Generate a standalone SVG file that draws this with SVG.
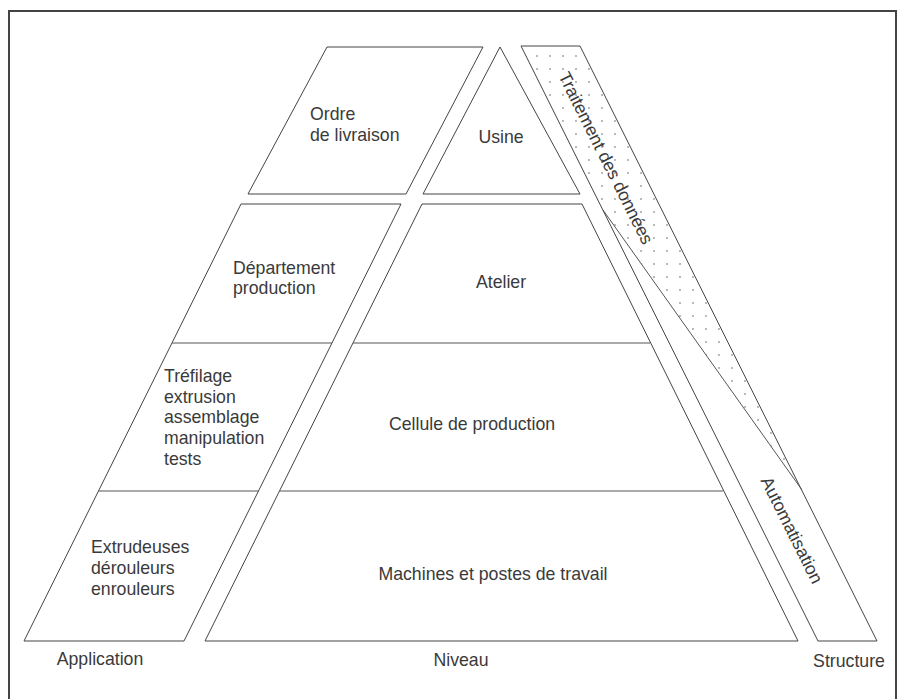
<svg xmlns="http://www.w3.org/2000/svg" width="897" height="699" viewBox="0 0 897 699">
<defs>
<pattern id="dots" width="13" height="13" patternUnits="userSpaceOnUse">
<circle cx="4" cy="4" r="0.9" fill="#999"/>
</pattern>
</defs>
<style>
.sh{fill:#fff;stroke:#444;stroke-width:1;stroke-linejoin:miter}
.ln{stroke:#555;stroke-width:1;fill:none}
.t{font-family:"Liberation Sans",Arial,sans-serif;font-size:17.7px;fill:#3a3a3a}
.c{text-anchor:middle}
.frame{stroke:#444;stroke-width:2;fill:none}
</style>
<rect width="897" height="699" fill="#fff"/>
<g id="frame"><path class="frame" d="M9,699 V11 H896 V699"/></g>

<g id="ordre">
<polygon class="sh" points="327,47 483,47 406,194 248,194"/>
<text class="t" x="310" y="120">Ordre</text>
<text class="t" x="310" y="141">de livraison</text>
</g>
<g id="application-lower">
<polygon class="sh" points="241,204 401,204 184,641 24,641"/>
<line class="ln" x1="172" y1="343" x2="332" y2="343"/>
<line class="ln" x1="98.5" y1="491" x2="258.5" y2="491"/>
</g>
<g id="departement">
<text class="t" x="233" y="274">Département</text>
<text class="t" x="233" y="294">production</text>
</g>
<g id="trefilage">
<text class="t" x="164" y="382">Tréfilage</text>
<text class="t" x="164" y="403">extrusion</text>
<text class="t" x="164" y="423">assemblage</text>
<text class="t" x="164" y="444">manipulation</text>
<text class="t" x="164" y="465">tests</text>
</g>
<g id="extrudeuses">
<text class="t" x="91" y="553">Extrudeuses</text>
<text class="t" x="91" y="574">dérouleurs</text>
<text class="t" x="91" y="595">enrouleurs</text>
</g>

<g id="usine">
<polygon class="sh" points="500,47 580,194 423,194"/>
<text class="t c" x="501" y="143">Usine</text>
</g>
<g id="niveau-lower">
<polygon class="sh" points="422,204 582,204 798,641 205,641"/>
<line class="ln" x1="353" y1="343" x2="650" y2="343"/>
<line class="ln" x1="279.5" y1="491" x2="723" y2="491"/>
</g>
<g id="atelier"><text class="t c" x="501" y="288">Atelier</text></g>
<g id="cellule"><text class="t c" x="472" y="430">Cellule de production</text></g>
<g id="machines"><text class="t c" x="493" y="580">Machines et postes de travail</text></g>

<g id="structure-strip">
<polygon class="sh" points="521,46 580,46 877,641 818,641"/>
<polygon points="521,46 580,46 802,490 603,210" fill="url(#dots)" stroke="none"/>
</g>
<g id="connectors">
<line class="ln" x1="603" y1="210" x2="802" y2="490"/>
</g>
<g id="traitement">
<text class="t c" x="606" y="158" dy="0.35em" transform="rotate(63.4 606 158)">Traitement des données</text>
</g>
<g id="automatisation">
<text class="t c" x="792" y="530" dy="0.35em" transform="rotate(63.4 792 530)">Automatisation</text>
</g>

<g id="labels">
<text class="t c" x="100" y="665">Application</text>
<text class="t c" x="461" y="666">Niveau</text>
<text class="t c" x="849" y="667">Structure</text>
</g>
</svg>
